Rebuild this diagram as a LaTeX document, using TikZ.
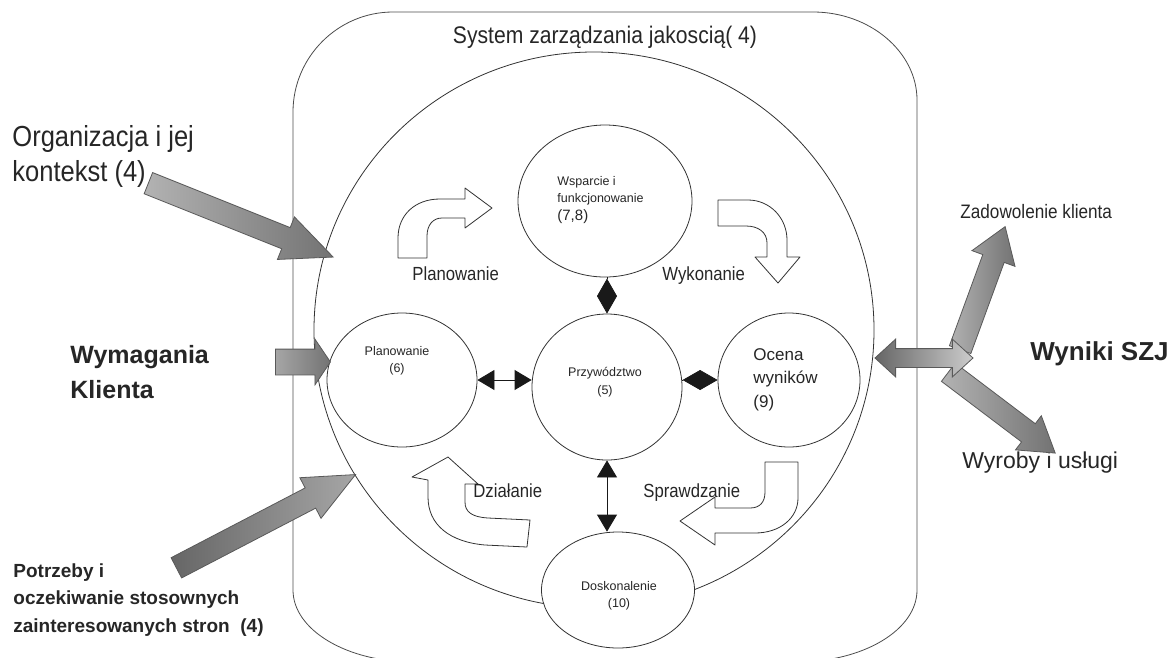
\documentclass[tikz,border=0pt]{standalone}
\usepackage{fontspec}
\setmainfont{Liberation Sans}
\newfontfamily\narrowfont{Liberation Sans}[FakeStretch=0.88]
\usetikzlibrary{shapes.geometric,shapes.arrows,arrows.meta}

\begin{document}
\begin{tikzpicture}[x=1pt,y=-1pt,line width=0.8pt,
    every node/.style={inner sep=0pt,text=black!85},
    circ/.style={ellipse,draw=black!80,fill=white},
    blockarrow/.style={draw=black!80,fill=white,line join=round},
    grayarrow/.style={single arrow,draw=black!65,anchor=tail,inner xsep=0pt,single arrow head indent=0pt},
    diam/.style={black!90,-{Diamond[length=35pt,width=20pt]}},
    tri/.style={black!90,{Triangle[length=17pt,width=20pt]}-{Triangle[length=17pt,width=20pt]}},
    smalltxt/.style={font=\fontsize{12.5}{17.5}\selectfont},
    flowtxt/.style={font=\narrowfont\fontsize{19}{23}\selectfont,anchor=base west}]
    \useasboundingbox (0,0) rectangle (1170,657);
    \draw[black!70] (293,112) .. controls (293,57) and (338,12) .. (393,12) -- (813,12)
        .. controls (870,12) and (917,52) .. (917,100) -- (917,590)
        .. controls (917,630) and (863,662) .. (797,662) -- (413,662)
        .. controls (347,662) and (293,630) .. (293,590) -- cycle;
    \node[font=\narrowfont\fontsize{24}{28}\selectfont,anchor=base] (title) at (605,43) {System zarządzania jakoscią( 4)};
    \node[ellipse,draw=black!80,minimum width=560pt,minimum height=556pt] (szj) at (594,330) {};
    \node[circ,minimum width=174pt,minimum height=152pt] (wsparcie) at (605,201) {};
    \node[circ,minimum width=150pt,minimum height=146pt] (przyw) at (607,387) {};
    \node[circ,minimum width=150pt,minimum height=134pt] (plan) at (402,380) {};
    \node[circ,minimum width=142pt,minimum height=134pt] (ocena) at (789,380) {};
    \node[circ,minimum width=153pt,minimum height=116pt] (doskon) at (618,590) {};
    \draw[diam] (przyw.north |- wsparcie.south) -- (przyw.north);
    \draw[tri] (plan.east) -- (plan.east -| przyw.west);
    \draw[diam] (ocena.west -| przyw.east) -- (ocena.west);
    \draw[tri] (przyw.south) -- (przyw.south |- doskon.north);
    \node[smalltxt,align=left,anchor=north west] (wsparcietxt) at (557,176) {Wsparcie i\\funkcjonowanie\\{\fontsize{15}{19}\selectfont(7,8)}};
    \node[smalltxt,align=center,anchor=north] (przywtxt) at (605,367) {Przywództwo\\(5)};
    \node[smalltxt,align=center,anchor=north] (plantxt) at (397,346) {Planowanie\\(6)};
    \node[font=\fontsize{17}{23.5}\selectfont,align=left,anchor=north west] (ocenatxt) at (753,348) {Ocena\\wyników\\(9)};
    \node[smalltxt,align=center,anchor=north] (doskontxt) at (619,581) {Doskonalenie\\(10)};
    \draw[blockarrow] (398,258) -- (398,238) .. controls (398,215) and (415,199) .. (440,199) -- (465,199)
        -- (465,188) -- (492,208) -- (465,228) -- (465,218) -- (442,218)
        .. controls (433,218) and (427,225) .. (427,236) -- (427,258) -- cycle;
    \draw[blockarrow] (718,200) -- (748,200) .. controls (770,200) and (787,218) .. (787,240) -- (787,257)
        -- (800,257) -- (778,283) -- (755,257) -- (767,257) -- (767,243)
        .. controls (767,232) and (758,226) .. (746,226) -- (718,226) -- cycle;
    \draw[blockarrow] (765,462) -- (798,462) -- (798,498) .. controls (798,518) and (780,533) .. (755,533)
        -- (715,533) -- (715,545) -- (680,521) -- (715,497) -- (715,508) -- (750,508)
        .. controls (760,508) and (765,502) .. (765,492) -- cycle;
    \draw[blockarrow] (428,480) -- (412,477) -- (448,457) -- (478,484) -- (465,484) -- (465,502)
        .. controls (465,512) and (472,517) .. (488,518) -- (530,520) -- (527,547) -- (485,545)
        .. controls (450,542) and (428,525) .. (428,497) -- cycle;
    \node[flowtxt] (planlbl) at (412,280) {Planowanie};
    \node[flowtxt] (wykonlbl) at (662,280) {Wykonanie};
    \node[flowtxt] (dzialbl) at (473,497) {Działanie};
    \node[flowtxt] (sprawlbl) at (643,497) {Sprawdzanie};
    \node[font=\narrowfont\fontsize{29}{35}\selectfont,align=left,anchor=north west] (org) at (12,125) {Organizacja i jej\\kontekst (4)};
    \node[font=\bfseries\fontsize{25}{35}\selectfont,align=left,anchor=north west] (wym) at (70,345) {Wymagania\\Klienta};
    \node[font=\bfseries\fontsize{19}{27.5}\selectfont,align=left,anchor=north west] (potrz) at (13,563) {Potrzeby i\\oczekiwanie stosownych\\zainteresowanych stron~ (4)};
    \node[font=\narrowfont\fontsize{19.5}{23}\selectfont,anchor=base west] (zadow) at (960,218) {Zadowolenie klienta};
    \node[font=\bfseries\fontsize{26}{30}\selectfont,anchor=base west] (wyniki) at (1030,360) {Wyniki SZJ};
    \node[font=\fontsize{23}{27}\selectfont,anchor=base west] (wyroby) at (962,468) {Wyroby i usługi};
    \node[grayarrow,rotate=-21.8,minimum height=199pt,inner ysep=11pt,single arrow head extend=11.5pt,single arrow tip angle=48.5,left color=black!30,right color=black!55] (orgarrow) at (148,183) {};
    \node[grayarrow,rotate=27.5,minimum height=202pt,inner ysep=11pt,single arrow head extend=11.5pt,single arrow tip angle=48.5,left color=black!60,right color=black!35] (potrzarrow) at (176,568) {};
    \node[grayarrow,minimum height=55pt,inner ysep=12.5pt,single arrow head extend=10pt,single arrow tip angle=112,left color=black!35,right color=black!55] (wymarrow) at (275,362) {};
    \node[grayarrow,rotate=69.9,minimum height=131pt,inner ysep=11pt,single arrow head extend=11.5pt,single arrow tip angle=68,left color=black!30,right color=black!55] (zadowarrow) at (960,350) {};
    \node[grayarrow,rotate=-37.1,minimum height=134pt,inner ysep=11pt,single arrow head extend=10pt,single arrow tip angle=65,left color=black!30,right color=black!55] (wyrobyarrow) at (948,372) {};
    \node[double arrow,draw=black!65,inner xsep=0pt,inner ysep=9pt,minimum height=98pt,double arrow head extend=9.5pt,double arrow tip angle=85,double arrow head indent=0pt,left color=black!60,right color=black!20] (wynikiarrow) at (924,358) {};
\end{tikzpicture}
\end{document}
